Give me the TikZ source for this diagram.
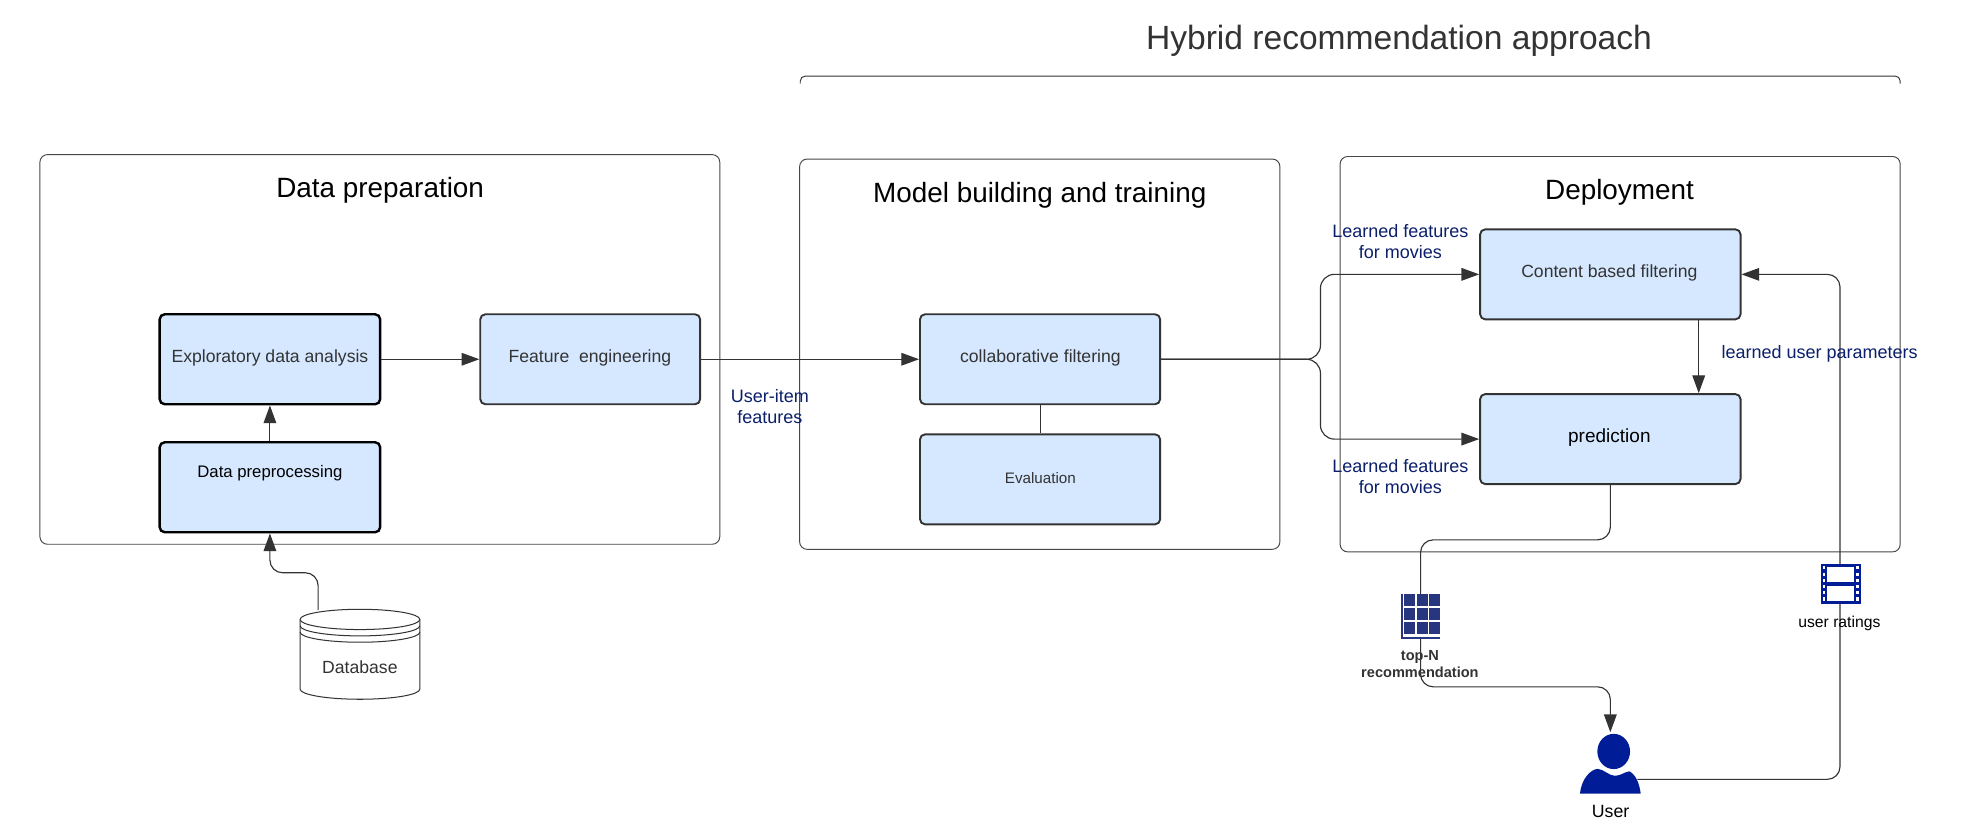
\documentclass[tikz,border=0pt]{standalone}
\usepackage{fontspec}
\setmainfont{Liberation Sans}
\usetikzlibrary{arrows.meta,calc}
\definecolor{boxfill}{HTML}{D5E8FF}
\definecolor{navytxt}{HTML}{0B1F6B}
\definecolor{usercol}{HTML}{001C96}
\definecolor{gridcol}{HTML}{27367F}
\definecolor{inktxt}{HTML}{333333}
\tikzset{
  panel/.style={draw=black!72,line width=0.75pt,rounded corners=6pt,anchor=center,inner sep=0pt},
  blockbase/.style={draw=#1,fill=boxfill,rounded corners=4pt,inner sep=0pt,anchor=center},
  block/.style={blockbase=inktxt,line width=1.5pt},
  blockstrong/.style={blockbase=black,line width=1.9pt},
  txt/.style={font=\fontsize{13.9}{17}\selectfont,text=inktxt,align=center,inner sep=0pt},
  note/.style={font=\fontsize{14.2}{17}\selectfont,text=navytxt,align=center,inner sep=0pt},
  paneltitle/.style={font=\fontsize{22}{26}\selectfont,text=black,inner sep=0pt},
  conn/.style={draw=inktxt,line width=0.9pt},
  arrowed/.style={conn,-{Triangle[length=14pt,width=10pt,color=inktxt]}}
}
\begin{document}
\begin{tikzpicture}[x=1pt,y=-1pt]
\useasboundingbox (0,0) rectangle (1568,655);
\fill[white] (0,0) rectangle (1568,655);
% title and bracket
\node[font=\fontsize{26.5}{30}\selectfont,text=inktxt,inner sep=0pt] (title) at (1104,32.5) {Hybrid recommendation approach};
\coordinate (brl) at (631.5,66);
\coordinate (brr) at (1499.5,66);
\coordinate (brt) at (0,60);
\draw[conn,line width=0.75pt,rounded corners=4pt] (brl) |- (brt -| brr) -- (brr);
% panels
\node[panel,minimum width=536.5pt,minimum height=307.5pt] (prep) at (299.75,275.75) {};
\node[panel,minimum width=379pt,minimum height=308pt] (model) at (820.5,279.5) {};
\node[panel,minimum width=442pt,minimum height=312pt] (deploy) at (1278.5,279.5) {};
\node[paneltitle] (preptitle) at (300,150) {Data preparation};
\node[paneltitle] (modeltitle) at (820.5,154) {Model building and training};
\node[paneltitle] (deploytitle) at (1278,151.8) {Deployment};
% blocks
\node[blockstrong,minimum width=174pt,minimum height=71pt] (eda) at (213,283.5) {};
\node[block,minimum width=173.5pt,minimum height=71pt] (fe) at (465.75,283.5) {};
\node[blockstrong,minimum width=174pt,minimum height=71pt] (dpp) at (213,384.5) {};
\node[block,minimum width=189.5pt,minimum height=71pt] (cf) at (820.75,283.5) {};
\node[block,minimum width=189.5pt,minimum height=71pt] (ev) at (820.75,378.25) {};
\node[block,minimum width=205.5pt,minimum height=71pt] (cbf) at (1270.75,216.5) {};
\node[block,minimum width=205.5pt,minimum height=71pt] (pred) at (1270.75,346.5) {};
% database
\node[minimum width=94.5pt,minimum height=71pt,inner sep=0pt] (db) at (284.25,516.5) {};
% user and icons (positions)
\node[minimum width=47.5pt,minimum height=48pt,inner sep=0pt] (user) at (1270.75,602) {};
\node[minimum width=31pt,minimum height=35pt,inner sep=0pt] (gridicon) at (1121,486.5) {};
\node[minimum width=31pt,minimum height=31.6pt,inner sep=0pt] (filmicon) at (1452.5,461) {};
% routing coordinates
\coordinate (dbout) at (251,481.5);
\coordinate (dbmid) at (0,452);
\coordinate (jx) at (1042,0);
\coordinate (cpx) at (1340.5,0);
\coordinate (lowy) at (0,426);
\coordinate (leftx) at (1121,0);
\coordinate (backy) at (0,542);
\coordinate (rightx) at (1452,0);
\coordinate (uout) at (1292,615);
% connectors
\draw[arrowed,rounded corners=10pt] (dbout) |- (dbmid -| dpp.south) -- (dpp.south);
\draw[arrowed] (dpp.north) -- (eda.south);
\draw[arrowed] (eda.east) -- (fe.west);
\draw[arrowed] (fe.east) -- (cf.west);
\draw[conn] (cf.south) -- (ev.north);
\draw[arrowed,rounded corners=11pt] (cf.east) -- (cf.east -| jx) |- (cbf.west);
\draw[arrowed,rounded corners=11pt] (cf.east) -- (cf.east -| jx) |- (pred.west);
\draw[arrowed] (cbf.south -| cpx) -- (pred.north -| cpx);
\draw[arrowed,rounded corners=10pt] (pred.south) |- (lowy -| leftx) |- (backy -| user.north) -- (user.north);
\draw[arrowed,rounded corners=10pt] (uout) -| (rightx |- cbf.east) -- (cbf.east);
% block labels
\node[txt] (edal) at (213,282.5) {Exploratory data analysis};
\node[txt] (fel) at (465.5,282.5) {Feature\ \ engineering};
\node[txt,text=black,font=\fontsize{13.2}{16}\selectfont] (dppl) at (213,373) {Data preprocessing};
\node[txt] (cfl) at (821,282.5) {collaborative filtering};
\node[txt,font=\fontsize{12}{15}\selectfont] (evl) at (821,377.2) {Evaluation};
\node[txt] (cbfl) at (1270,215) {Content based filtering};
\node[txt,text=black,font=\fontsize{15}{18}\selectfont] (predl) at (1270,345.7) {prediction};
% notes
\node[note] (uif) at (607.5,321) {User-item\\features};
\node[note] (lf1) at (1105,190.5) {Learned features\\for movies};
\node[note] (lf2) at (1105,376) {Learned features\\for movies};
\node[note] (lup) at (1436,279) {learned user parameters};
% database drawing
\draw[conn,line width=0.8pt,fill=white] (db.north west) ++(0,8)
  arc[start angle=180,end angle=0,x radius=47.25pt,y radius=8pt]
  -- ++(0,55) arc[start angle=0,end angle=-180,x radius=47.25pt,y radius=8pt] -- cycle;
\draw[conn,line width=0.8pt] (db.north west) ++(0,8) arc[start angle=180,end angle=360,x radius=47.25pt,y radius=8pt];
\draw[conn,line width=0.8pt] (db.north west) ++(0,13) arc[start angle=180,end angle=360,x radius=47.25pt,y radius=8pt];
\draw[conn,line width=0.8pt] (db.north west) ++(0,18) arc[start angle=180,end angle=360,x radius=47.25pt,y radius=8pt];
\node[txt] (dbl) at (284,526.5) {Database};
% user glyph
\fill[usercol] (1273.4,593) ellipse[x radius=12.9pt,y radius=13.9pt];
\fill[usercol] (user.south west) .. controls ($(user.south west)+(1,-11)$) and ($(user.south west)+(8,-19)$) .. ($(user.south west)+(14,-19.5)$)
  .. controls ($(user.south west)+(19,-19)$) and ($(user.south west)+(23,-14)$) .. ($(user.south west)+(27.5,-14)$)
  .. controls ($(user.south west)+(32,-14)$) and ($(user.south west)+(35,-17)$) .. ($(user.south west)+(39,-17.5)$)
  .. controls ($(user.south west)+(44,-15)$) and ($(user.south east)+(-1,-8)$) .. (user.south east) -- cycle;
\node[txt,text=black,font=\fontsize{14}{17}\selectfont] (userl) at (1271,640) {User};
% grid glyph
\fill[white] (gridicon.north west) rectangle (gridicon.south east);
\fill[gridcol] (gridicon.north west) rectangle ($(gridicon.south west)+(1.5,0)$);
\fill[gridcol] ($(gridicon.south west)+(0,-1.5)$) rectangle (gridicon.south east);
\foreach \cx in {0,1,2}{\foreach \cy in {0,1,2}{
  \fill[gridcol] ($(gridicon.north west)+(2.9+\cx*9.75,\cy*11.2)$) rectangle ++(8.6,9.1);
}}
\node[txt,text=inktxt,font=\bfseries\fontsize{11.5}{14}\selectfont] (topn) at (1120.5,524) {top-N\\recommendation};
% film glyph
\fill[usercol] (filmicon.north west) rectangle (filmicon.south east);
\fill[white] ($(filmicon.north west)+(5,2.6)$) rectangle ($(filmicon.north east)+(-5,14.5)$);
\fill[white] ($(filmicon.north west)+(5,17.1)$) rectangle ($(filmicon.north east)+(-5,28.9)$);
\foreach \hy in {1,...,6}{
  \fill[white] ($(filmicon.north west)+(1.4,\hy*4.9-2.9)$) rectangle ++(2.2,2.4);
  \fill[white] ($(filmicon.north east)+(-3.6,\hy*4.9-2.9)$) rectangle ++(2.2,2.4);
}
\node[txt,text=black,font=\fontsize{12.4}{15}\selectfont] (urt) at (1451.5,492) {user ratings};
\end{tikzpicture}
\end{document}
